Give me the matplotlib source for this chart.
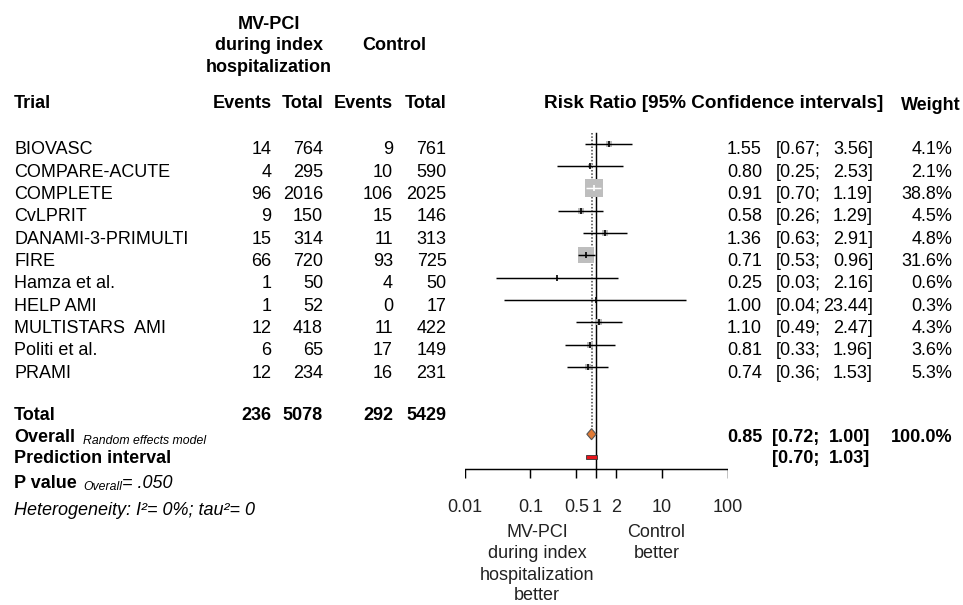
import numpy as np
import matplotlib
matplotlib.use("Agg")
import matplotlib.pyplot as plt
from matplotlib.patches import Polygon, Rectangle

plt.rcParams["font.family"] = ["Liberation Sans", "DejaVu Sans"]

# ---- data -------------------------------------------------------------
trials = ["BIOVASC", "COMPARE-ACUTE", "COMPLETE", "CvLPRIT", "DANAMI-3-PRIMULTI",
          "FIRE", "Hamza et al.", "HELP AMI", "MULTISTARS  AMI", "Politi et al.", "PRAMI"]
mv_events = [14, 4, 96, 9, 15, 66, 1, 1, 12, 6, 12]
mv_total = [764, 295, 2016, 150, 314, 720, 50, 52, 418, 65, 234]
ctl_events = [9, 10, 106, 15, 11, 93, 4, 0, 11, 17, 16]
ctl_total = [761, 590, 2025, 146, 313, 725, 50, 17, 422, 149, 231]
rr = [1.55, 0.80, 0.91, 0.58, 1.36, 0.71, 0.25, 1.00, 1.10, 0.81, 0.74]
rr_lo = [0.67, 0.25, 0.70, 0.26, 0.63, 0.53, 0.03, 0.04, 0.49, 0.33, 0.36]
rr_hi = [3.56, 2.53, 1.19, 1.29, 2.91, 0.96, 2.16, 23.44, 2.47, 1.96, 1.53]
weight = [4.1, 2.1, 38.8, 4.5, 4.8, 31.6, 0.6, 0.3, 4.3, 3.6, 5.3]

total_mv_events, total_mv = 236, 5078
total_ctl_events, total_ctl = 292, 5429
overall_rr, overall_lo, overall_hi = 0.85, 0.72, 1.00
pred_lo, pred_hi = 0.70, 1.03

axis_ticks = [0.01, 0.1, 0.5, 1, 2, 10, 100]
axis_labels = ["0.01", "0.1", "0.5", "1", "2", "10", "100"]

# ---- layout -----------------------------------------------------------
W, H = 963, 605
FS = 13.0
SMALL = 8.8
fig = plt.figure(figsize=(W / 100, H / 100), dpi=100)

# text layer in pixel units
tx = fig.add_axes([0, 0, 1, 1])
tx.set_xlim(0, W)
tx.set_ylim(H, 0)
tx.axis("off")

# forest layer: log risk-ratio scale
X0, X1 = 464.7, 727.7
fx = fig.add_axes([X0 / W, 0, (X1 - X0) / W, 1])
fx.set_xscale("log")
fx.set_xlim(0.01, 100)
fx.set_ylim(H, 0)
fx.axis("off")


def t(x, y, s, ha="left", bold=False, italic=False, size=FS, color="black"):
    tx.text(x, y, s, ha=ha, va="baseline", fontsize=size,
            fontweight="bold" if bold else "normal",
            fontstyle="italic" if italic else "normal", color=color)


# group headers
for y, s in zip([29.3, 50.5, 71.7], ["MV-PCI", "during index", "hospitalization"]):
    t(269, y, s, ha="center", bold=True)
t(394, 50.5, "Control", ha="center", bold=True)

# column headers
cols = [271.5, 323, 393, 446.5]
t(14, 108.3, "Trial", bold=True)
for x, s in zip(cols, ["Events", "Total", "Events", "Total"]):
    t(x, 108.3, s, ha="right", bold=True)
t(883, 107.5, "Risk Ratio [95% Confidence intervals]", ha="right", bold=True, size=13.6)
t(961, 110, "Weight", ha="right", bold=True)

# study rows
row0, dy = 154.3, 22.33
base = [row0 + i * dy for i in range(len(trials))]
for i, name in enumerate(trials):
    y = base[i]
    t(14, y, name)
    for x, v in zip(cols, [mv_events[i], mv_total[i], ctl_events[i], ctl_total[i]]):
        t(x, y, str(v), ha="right")
    t(762, y, f"{rr[i]:.2f}", ha="right")
    t(776, y, f"[{rr_lo[i]:.2f};")
    t(873, y, f"{rr_hi[i]:.2f}]", ha="right")
    t(952, y, f"{weight[i]:.1f}%", ha="right")

# summary rows
y_tot, y_ov, y_pi, y_p, y_het = 420, 441.7, 463.3, 488, 515
t(14, y_tot, "Total", bold=True)
for x, v in zip(cols, [total_mv_events, total_mv, total_ctl_events, total_ctl]):
    t(x, y_tot, str(v), ha="right", bold=True)
t(14, y_ov, "Overall", bold=True)
t(83, y_ov + 2.5, "Random effects model", italic=True, size=SMALL)
t(14, y_pi, "Prediction interval", bold=True)
t(14, y_p, "P value", bold=True)
t(83, y_p + 2.5, "Overall", italic=True, size=SMALL)
t(122, y_p, "= .050", italic=True)
t(14, y_het, "Heterogeneity: I\u00b2= 0%; tau\u00b2= 0", italic=True)

t(762, y_ov, f"{overall_rr:.2f}", ha="right", bold=True)
t(772, y_ov, f"[{overall_lo:.2f};", bold=True)
t(870, y_ov, f"{overall_hi:.2f}]", ha="right", bold=True)
t(952, y_ov, "100.0%", ha="right", bold=True)
t(772, y_pi, f"[{pred_lo:.2f};", bold=True)
t(870, y_pi, f"{pred_hi:.2f}]", ha="right", bold=True)

# ---- forest marks -----------------------------------------------------
fig.canvas.draw()


def px(v):
    return fx.transData.transform((v, 0))[0]


mark_off = 10.6
max_side = 18.0
w_max = max(weight)
for i in range(len(trials)):
    yc = base[i] - mark_off
    side = max_side * np.sqrt(weight[i] / w_max)
    fx.scatter([rr[i]], [yc], marker="s", s=(side * 0.72) ** 2,
               color="#BEBEBE", linewidths=0, zorder=2)
    inside = (px(rr_lo[i]) >= px(rr[i]) - side / 2) and (px(rr_hi[i]) <= px(rr[i]) + side / 2)
    c = "white" if inside else "black"
    fx.plot([rr_lo[i], rr_hi[i]], [yc, yc], color=c, lw=1.05, zorder=3,
            solid_capstyle="butt")
    fx.plot([rr[i]], [yc], marker="|", markersize=4.8, markeredgewidth=1.2,
            color=c, zorder=4)

# reference lines
y_top, y_axis = 133, 469
y_dia = 434.2
fx.plot([1, 1], [y_top, y_axis], color="black", lw=1.05, zorder=1)
fx.plot([overall_rr, overall_rr], [y_top, y_dia - 5.5], color="#444444", lw=1.1,
        linestyle=(0, (1, 1.2)), zorder=1)

# overall diamond
dia = Polygon([(overall_lo, y_dia), (overall_rr, y_dia - 5.5),
               (overall_hi, y_dia), (overall_rr, y_dia + 5.5)],
              closed=True, facecolor="#E07A35", edgecolor="#555555", lw=0.8, zorder=5)
fx.add_patch(dia)

# prediction interval bar
fx.add_patch(Rectangle((pred_lo, 454.6), pred_hi - pred_lo, 4.6,
                       facecolor="#E8141B", edgecolor="#333333", lw=0.6, zorder=5))

# x axis
fx.plot([axis_ticks[0], axis_ticks[-1]], [y_axis, y_axis], color="black", lw=1.05)
fx.vlines(axis_ticks, y_axis, y_axis + 9, color="black", lw=1.05)
for v, s in zip(axis_ticks, axis_labels):
    fx.text(v, 511.7, s, ha="center", va="baseline", fontsize=FS, color="#222222")

# favour labels
for y, s in zip([537, 558.5, 580, 600.5],
                ["MV-PCI", "during index", "hospitalization", "better"]):
    t(537, y, s, ha="center", color="#222222")
for y, s in zip([537, 558.5], ["Control", "better"]):
    t(656.5, y, s, ha="center", color="#222222")

fig.savefig("out.png", dpi=100, facecolor="white")
